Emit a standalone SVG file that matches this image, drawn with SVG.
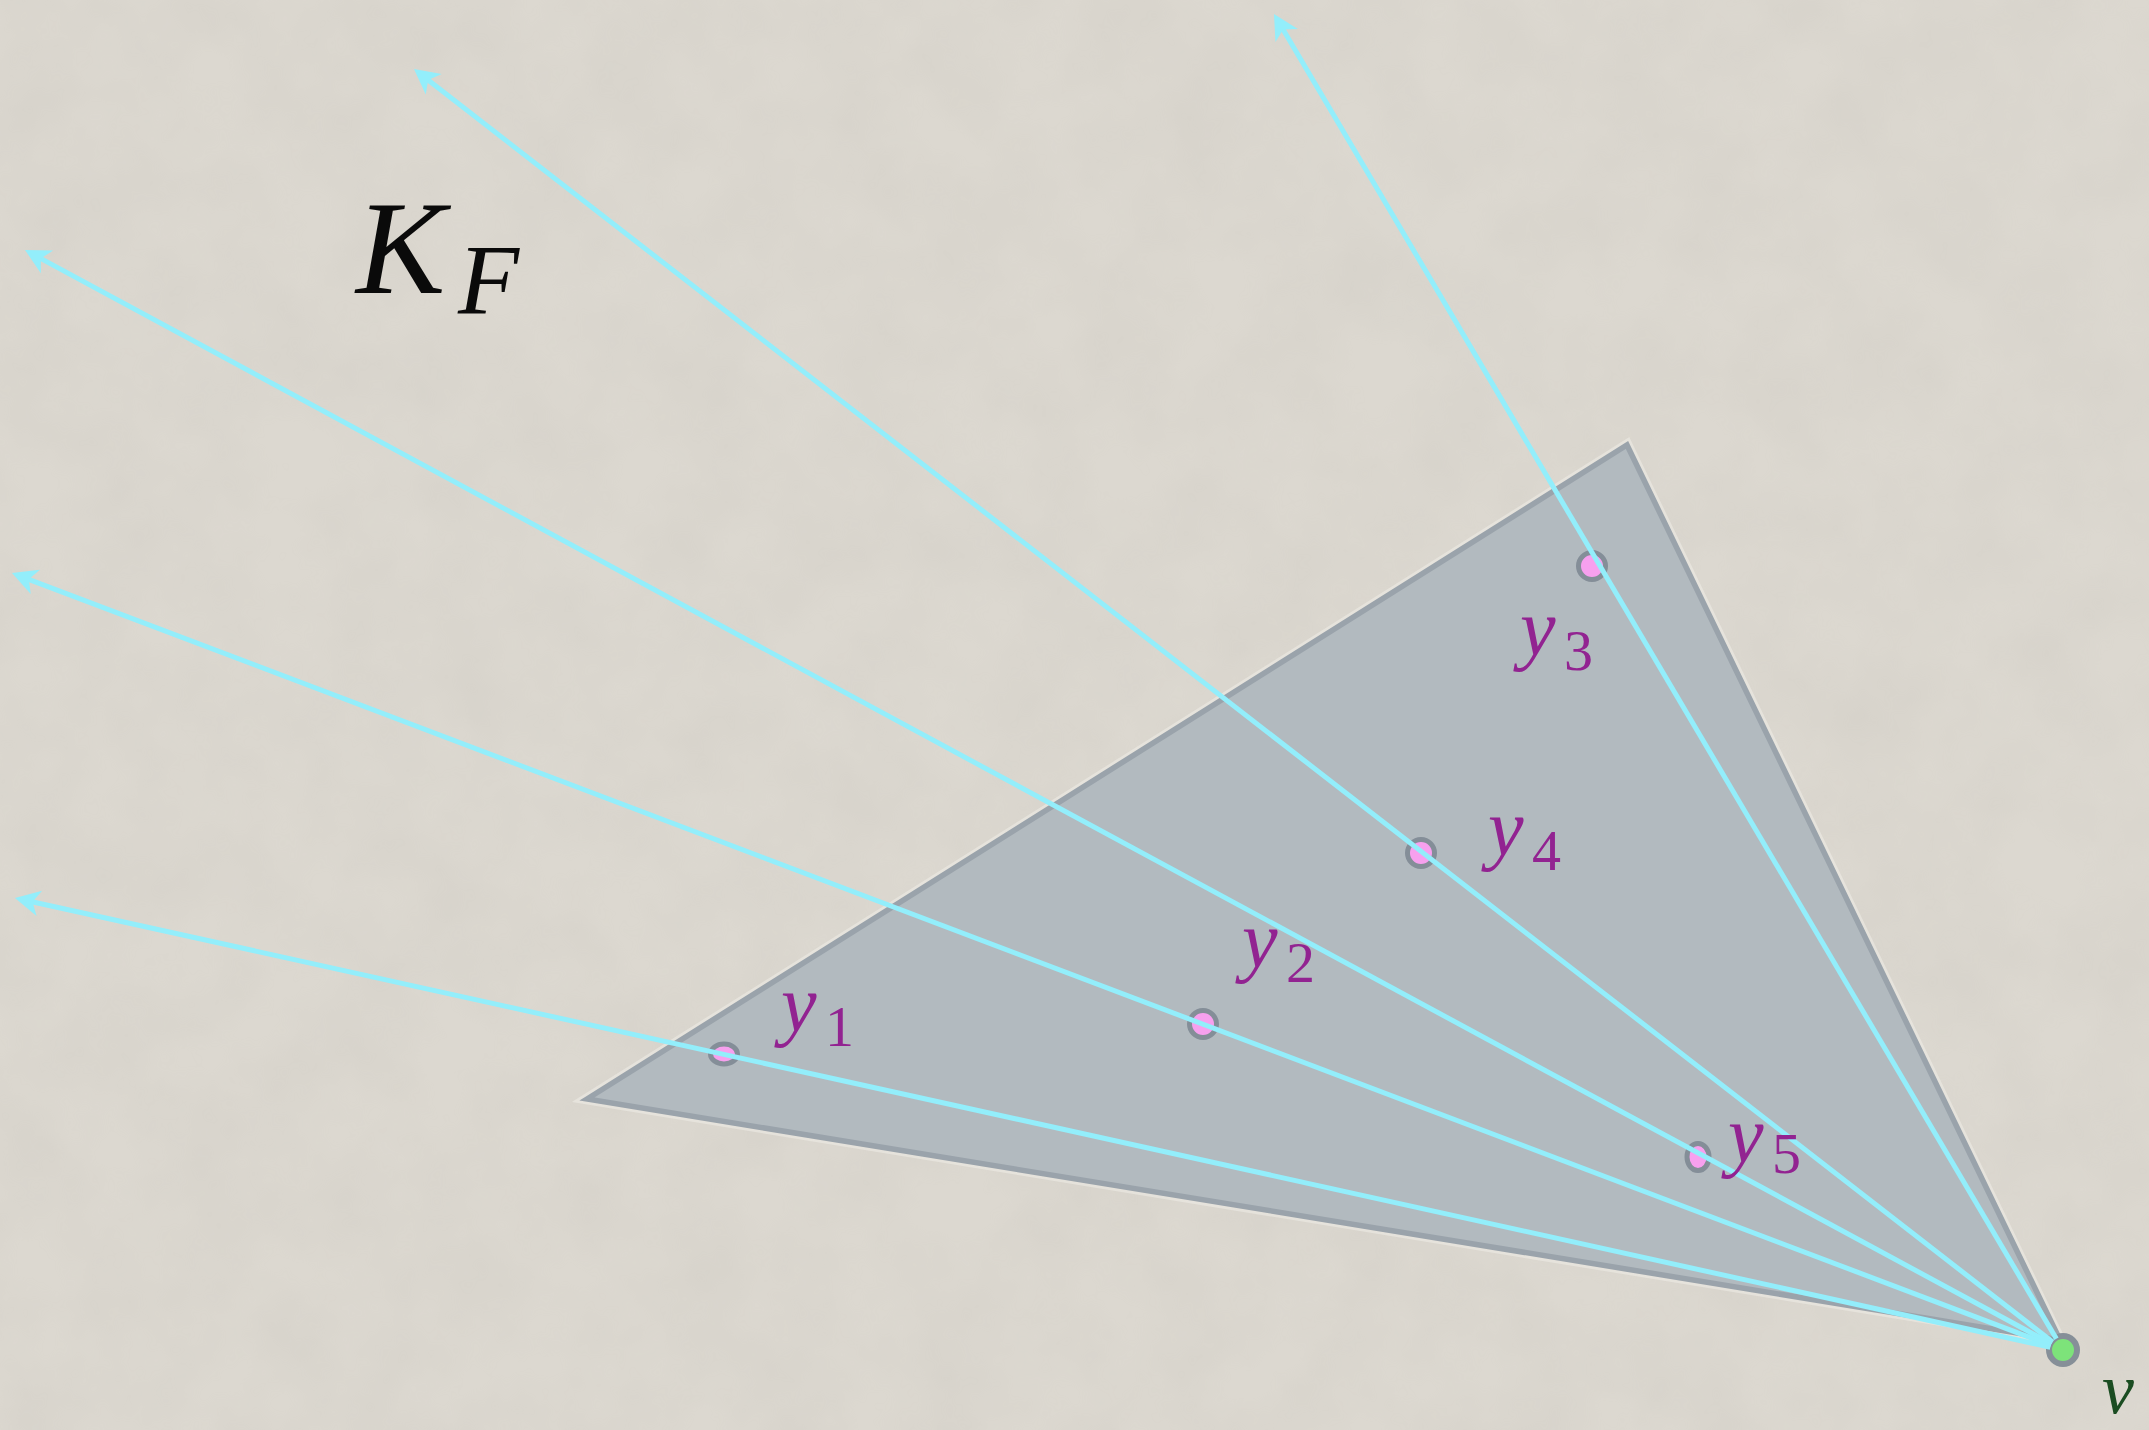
<svg xmlns="http://www.w3.org/2000/svg" width="2149" height="1430" viewBox="0 0 2149 1430">
  <defs>
    <filter id="paper" x="0" y="0" width="100%" height="100%">
      <feTurbulence type="fractalNoise" baseFrequency="0.012" numOctaves="4" seed="3" result="n"/>
      <feColorMatrix type="matrix" values="0 0 0 0 0.5  0 0 0 0 0.48  0 0 0 0 0.44  0 0 0 0.9 -0.25"/>
    </filter>
    <marker id="arr" viewBox="-26 -14 30 28" markerWidth="30" markerHeight="28" refX="-15" refY="0" markerUnits="userSpaceOnUse" orient="auto" overflow="visible">
      <path d="M0 0 L-25 -13 L-18 0 L-25 13 Z" fill="#93eefb"/>
    </marker>
    <style>
      .ray { stroke: #93eefb; stroke-width: 5; fill: none; marker-end: url(#arr); }
      .pt { fill: #f7a0ee; stroke: #848e98; stroke-width: 5; }
      .lbl { font-family: "Liberation Serif", "DejaVu Serif", serif; fill: #922391; }
      .it { font-style: italic; font-size: 80px; }
      .sub { font-style: normal; font-size: 58px; }
    </style>
  </defs>
  <rect width="2149" height="1430" fill="#dcd8d0"/>
  <rect width="2149" height="1430" filter="url(#paper)" opacity="0.25"/>

  <g id="cone">
    <polygon points="587,1099 1627,445 2060,1340" fill="none" stroke="#f2efe9" stroke-opacity="0.5" stroke-width="11" stroke-linejoin="miter"/>
    <polygon points="587,1099 1627,445 2060,1340" fill="#b2babf" stroke="#9aa3ab" stroke-width="5.5" stroke-linejoin="miter"/>
  </g>

  <g id="label-KF" font-family="'Liberation Serif', 'DejaVu Serif', serif" fill="#0a0a0a" font-style="italic">
    <text x="356" y="293" font-size="134">K</text>
    <text x="458" y="313" font-size="100">F</text>
  </g>

  <g id="points">
    <g id="y1"><ellipse class="pt" cx="724" cy="1054" rx="13.5" ry="10"/></g>
    <g id="y2"><circle class="pt" cx="1203" cy="1024" r="13.5"/></g>
    <g id="y3"><circle class="pt" cx="1592" cy="566" r="13.5"/></g>
    <g id="y4"><circle class="pt" cx="1421" cy="853" r="13.5"/></g>
    <g id="y5"><ellipse class="pt" cx="1698" cy="1157" rx="11" ry="13.5"/></g>
    <g id="v"><circle cx="2063" cy="1350" r="14" fill="#7de37a" stroke="#868f98" stroke-width="6"/></g>
  </g>

  <g id="connectors">
    <line class="ray" x1="2056.4" y1="1338.8" x2="1281.6" y2="26.9"/>
    <line class="ray" x1="2052.7" y1="1342.0" x2="425.8" y2="78.2"/>
    <line class="ray" x1="2051.6" y1="1343.8" x2="38.2" y2="257.1"/>
    <line class="ray" x1="2050.8" y1="1345.4" x2="26.0" y2="578.3"/>
    <line class="ray" x1="2050.3" y1="1347.2" x2="29.6" y2="901.2"/>
  </g>

  <g id="labels">
    <text class="lbl"><tspan class="it" x="781" y="1031">y</tspan><tspan class="sub" x="825" y="1046">1</tspan></text>
    <text class="lbl"><tspan class="it" x="1242" y="967">y</tspan><tspan class="sub" x="1286" y="982">2</tspan></text>
    <text class="lbl"><tspan class="it" x="1520" y="655">y</tspan><tspan class="sub" x="1564" y="670">3</tspan></text>
    <text class="lbl"><tspan class="it" x="1488" y="855">y</tspan><tspan class="sub" x="1532" y="870">4</tspan></text>
    <text class="lbl"><tspan class="it" x="1728" y="1162">y</tspan><tspan class="sub" x="1772" y="1173">5</tspan></text>
    <text font-family="'Liberation Serif', 'DejaVu Serif', serif" font-style="italic" font-size="72" fill="#1b4d22" x="2102" y="1413">v</text>
  </g>
</svg>
